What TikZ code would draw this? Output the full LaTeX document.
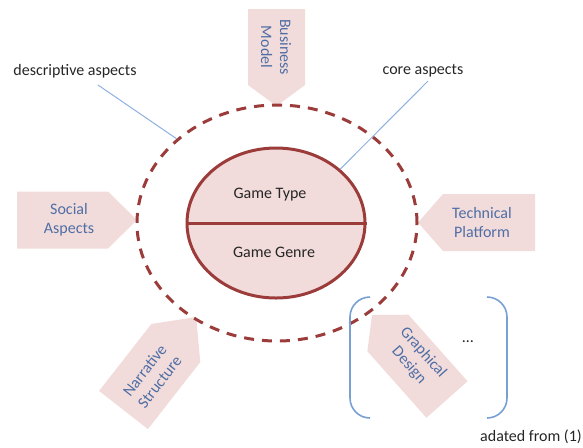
\documentclass[tikz,border=0pt]{standalone}
\usepackage{fontspec}
\setmainfont{Carlito}
\usetikzlibrary{shapes.geometric}

\definecolor{darkred}{RGB}{155,59,58}
\definecolor{tagpink}{RGB}{242,220,219}
\definecolor{tagblue}{RGB}{79,110,165}
\definecolor{linkblue}{RGB}{141,176,222}
\definecolor{brblue}{RGB}{120,160,212}

\tikzset{
  tag/.style={fill=tagpink},
  tagtext/.style={text=tagblue, align=center, font=\fontsize{8}{9.5}\selectfont},
  plain/.style={text=black!85, font=\fontsize{8}{9.5}\selectfont},
  link/.style={draw=linkblue, line width=0.5pt},
  bracket/.style={draw=brblue, line width=0.8pt, rounded corners=10pt}
}

\begin{document}
\begin{tikzpicture}[x=0.5pt,y=-0.5pt]
\useasboundingbox (0,0) rectangle (583,447);

% aspect tags
\fill[tag, shift={(276.5,9)}, rotate=-90] (0,-28.5) -- (76,-28.5) -- (97,0) -- (76,28.5) -- (0,28.5) -- cycle;
\fill[tag, shift={(17,220)}] (0,-28.5) -- (91,-28.5) -- (120,0) -- (91,28.5) -- (0,28.5) -- cycle;
\fill[tag, shift={(535,222.5)}, rotate=180] (0,-28.5) -- (92,-28.5) -- (117,0) -- (92,28.5) -- (0,28.5) -- cycle;
\fill[tag, shift={(123.5,410)}, rotate=52] (0,-31) -- (85,-31) -- (118,0) -- (85,31) -- (0,31) -- cycle;
\fill[tag, shift={(447,399.5)}, rotate=131.6] (0,-27.5) -- (89,-27.5) -- (113,0) -- (89,27.5) -- (0,27.5) -- cycle;

\node[tagtext, rotate=-90] (bm) at (276,47) {Business\\Model};
\node[tagtext] (sa) at (69,220) {Social\\Aspects};
\node[tagtext] (tp) at (482,222.5) {Technical\\Platform};
\node[tagtext, rotate=52] (ns) at (152,376) {Narrative\\Structure};
\node[tagtext, rotate=-48.4] (gd) at (416,359) {Graphical\\Design};

% descriptive and core ellipses
\node[draw=darkred, line width=1.5pt, dash pattern=on 5pt off 4pt, ellipse,
      minimum width=140pt, minimum height=118pt, inner sep=0] (outer) at (277,223) {};
\node[draw=darkred, fill=tagpink, line width=1.5pt, ellipse,
      minimum width=89pt, minimum height=75pt, inner sep=0] (core) at (276,223) {};
\draw[darkred, line width=1.5pt] (core.west) -- (core.east);
\node[plain] (type) at (270,195) {Game Type};
\node[plain] (genre) at (274,252) {Game Genre};

% labels
\node[plain] (desc) at (75,71) {descriptive aspects};
\node[plain] (coreLbl) at (423,71) {core aspects};
\coordinate (descFoot) at (98,85);
\coordinate (coreFoot) at (428,81);
\draw[link] (descFoot) -- (outer.140);
\draw[link] (coreFoot) -- (core.40);

% brackets
\draw[bracket] (370,297) -- (350,297) -- (350,418) -- (370,418);
\draw[bracket] (487,297) -- (507,297) -- (507,418) -- (487,418);
\node[plain] (dots) at (468,342) {\dots};

\node[plain] (src) at (531,437) {adated from (1)};
\end{tikzpicture}
\end{document}
